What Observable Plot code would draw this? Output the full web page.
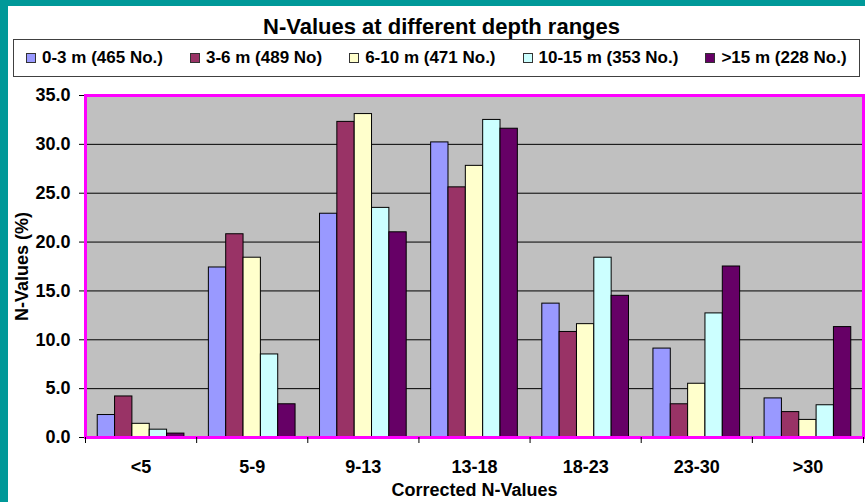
<!DOCTYPE html>
<html><head><meta charset="utf-8">
<script src="https://cdn.jsdelivr.net/npm/d3@7"></script>
<script src="https://cdn.jsdelivr.net/npm/@observablehq/plot@0.6"></script>
<style>
html,body{margin:0;padding:0;}
body{width:865px;height:502px;background:#009999;position:relative;overflow:hidden;font-family:"Liberation Sans",Arial,sans-serif;font-weight:bold;color:#000;}
#panel{position:absolute;left:8px;top:6px;width:857px;height:496px;background:#fff;}
#title{position:absolute;left:8px;width:867px;top:14px;line-height:26px;text-align:center;font-size:22px;white-space:nowrap;}
#legend{position:absolute;left:13px;top:39px;width:847px;height:38px;box-sizing:border-box;border:1px solid #404040;display:flex;align-items:center;padding-left:12px;gap:27px;background:#fff;}
.item{display:flex;align-items:center;font-size:17px;white-space:nowrap;}
.sw{width:10px;height:10px;box-sizing:border-box;border:1px solid #333;margin-right:6px;}
#chart{position:absolute;left:8px;top:80px;}
</style>
</head><body>
<div id="panel"></div>
<div id="title">N-Values at different depth ranges</div>
<div id="legend"></div>
<div id="chart"></div>
<script>
const categories = ["<5", "5-9", "9-13", "13-18", "18-23", "23-30", ">30"];
const seriesNames = ["0-3 m (465 No.)", "3-6 m (489 No)", "6-10 m (471 No.)", "10-15 m (353 No.)", ">15 m (228 No.)"];
const seriesColors = ["#9999FF", "#993366", "#FFFFCC", "#CCFFFF", "#660066"];
const values0to3 = [2.3, 17.4, 22.9, 30.2, 13.7, 9.1, 4.0];
const values3to6 = [4.2, 20.8, 32.3, 25.6, 10.8, 3.4, 2.6];
const values6to10 = [1.4, 18.4, 33.1, 27.8, 11.6, 5.5, 1.8];
const values10to15 = [0.8, 8.5, 23.5, 32.5, 18.4, 12.7, 3.3];
const valuesOver15 = [0.4, 3.4, 21.0, 31.6, 14.5, 17.5, 11.3];
const yTicks = [0, 5, 10, 15, 20, 25, 30, 35];

const seriesValues = [values0to3, values3to6, values6to10, values10to15, valuesOver15];

// legend
const legend = document.getElementById("legend");
seriesNames.forEach((name, j) => {
  const it = document.createElement("div");
  it.className = "item";
  const sw = document.createElement("div");
  sw.className = "sw";
  sw.style.background = seriesColors[j];
  const t = document.createElement("span");
  t.textContent = name;
  it.appendChild(sw); it.appendChild(t);
  legend.appendChild(it);
});

const W = 857, H = 422, ML = 77, MR = 2, MT = 15, MB = 65;
const bw = (W - ML - MR) / categories.length;
const plotH = H - MT - MB;
const pad = 0.11, wr = 0.156;

const barMarks = seriesValues.map((vals, j) => {
  const rows = categories.map((c, i) => ({category: c, value: vals[i]}));
  return Plot.barY(rows, {
    x: "category", y: "value",
    fill: seriesColors[j], stroke: "#000", strokeWidth: 1,
    insetLeft: bw * (pad + j * wr),
    insetRight: bw - bw * (pad + (j + 1) * wr)
  });
});

const plot = Plot.plot({
  width: W, height: H,
  marginLeft: ML, marginRight: MR, marginTop: MT, marginBottom: MB,
  style: {fontFamily: "'Liberation Sans', Arial, sans-serif", fontSize: "18px", fontWeight: "bold", background: "transparent", color: "#000", overflow: "visible"},
  x: {domain: categories, padding: 0, round: false, tickSize: 0, tickPadding: 23,
      label: "Corrected N-Values", labelAnchor: "center", labelOffset: 58, labelArrow: "none"},
  y: {domain: [0, 35], ticks: yTicks, tickFormat: d => d.toFixed(1), tickSize: 6, tickPadding: 9,
      label: "N-Values (%)", labelAnchor: "center", labelOffset: 70, labelArrow: "none"},
  marks: [
    Plot.frame({fill: "#C0C0C0"}),
    Plot.ruleY(yTicks.slice(1, -1), {stroke: "#000", strokeWidth: 1}),
    ...barMarks,
    Plot.frame({stroke: "#FF00FF", strokeWidth: 3}),
    Plot.ruleX(categories, {x: d => d, dx: -bw / 2, insetTop: plotH, insetBottom: -6, stroke: "#000"}),
    Plot.ruleX(categories.slice(-1), {x: d => d, dx: bw / 2, insetTop: plotH, insetBottom: -6, stroke: "#000"})
  ]
});
document.getElementById("chart").appendChild(plot);
</script>
</body></html>
